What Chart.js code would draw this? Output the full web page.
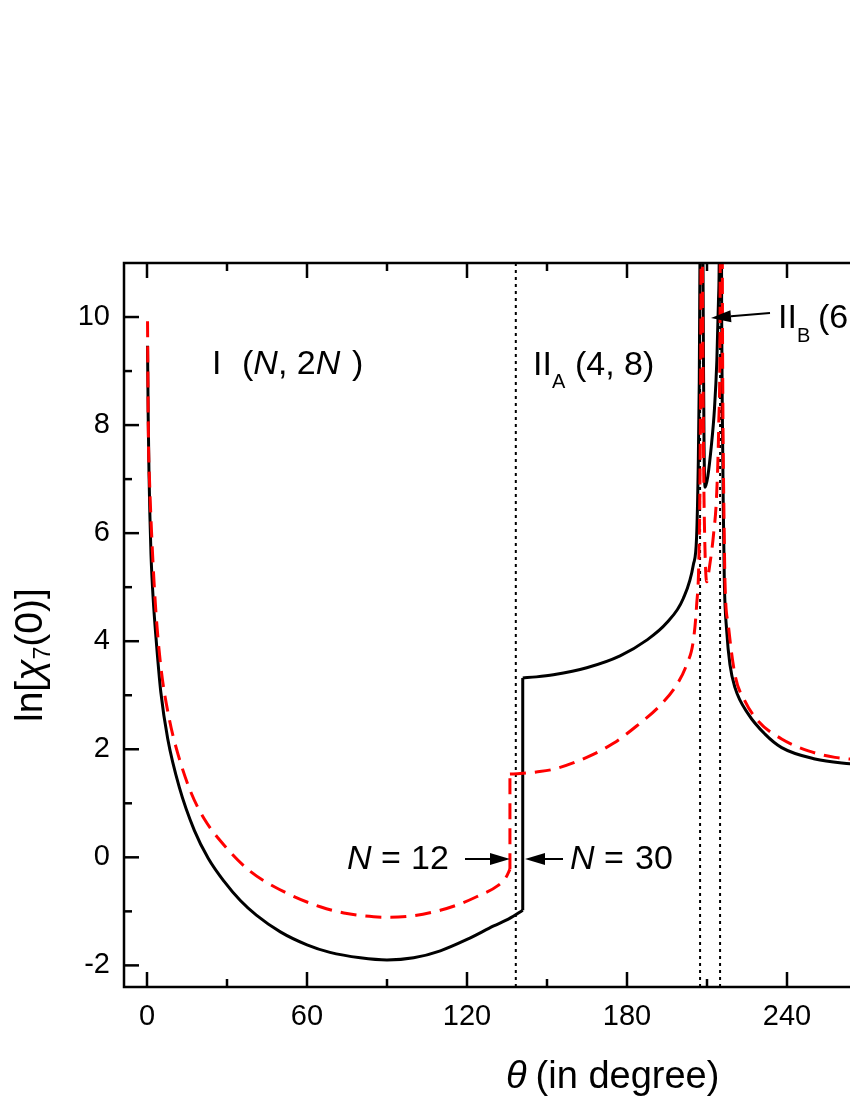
<!DOCTYPE html>
<html>
<head>
<meta charset="utf-8">
<script src="https://cdn.jsdelivr.net/npm/chart.js@4.4.1/dist/chart.umd.min.js"></script>
<style>
  html, body { margin: 0; padding: 0; background: #fff; overflow: hidden; }
  #wrap { width: 850px; height: 1100px; }
</style>
</head>
<body>
<div id="wrap"><canvas id="chart" width="850" height="1100"></canvas></div>
<script>
// tick labels
const xTickLabels = [0, 60, 120, 180, 240];
const yTickLabels = [-2, 0, 2, 4, 6, 8, 10];

// N = 30 (solid black): theta in degree, ln[chi7(0)]
// region I
const thetaN30I = [0.2, 0.45, 0.75, 1.1, 1.5, 2.3, 3.4, 5.2, 7.75, 12.1, 17.75, 23, 29, 35, 41,
    50, 60, 68.6, 80, 90, 100, 110, 120, 130, 136, 140.9];
const lnChiN30I = [9.47, 8.15, 7.1, 6.3, 5.6, 4.8, 4.05, 3.05, 2.2, 1.3, 0.5, -0.02, -0.45, -0.8, -1.07,
    -1.38, -1.62, -1.76, -1.86, -1.9, -1.86, -1.73, -1.52, -1.27, -1.13, -0.98];
// region II
const thetaN30II = [140.9, 146, 152.4, 164.9, 177.4, 187.4, 194.9, 201.1, 204.9, 206.1, 206.7, 207.1, 207.4, 207.6,
    208.3, 208.5, 208.7, 208.9, 209.3, 210.3, 211.6, 212.8, 213.7, 214.3, 214.6, 214.8,
    215.3, 215.5, 215.8, 216.1, 216.5, 217.4, 218.6, 220.5, 225.5, 231.75, 238, 250.5, 263.6, 268];
const lnChiN30II = [3.32, 3.34, 3.38, 3.51, 3.73, 4.02, 4.34, 4.79, 5.42, 5.93, 7.2, 8.8, 11.5, 14,
    14, 11, 9, 7.6, 6.85, 7.05, 7.6, 8.3, 9.2, 10.3, 11.2, 14,
    14, 10, 8, 6.5, 5.1, 4.18, 3.57, 3.14, 2.65, 2.28, 2.03, 1.82, 1.73, 1.71];

// N = 12 (dashed red)
const thetaN12I = [0.2, 0.5, 1.0, 1.5, 2.3, 3.4, 5.25, 8.4, 11.5, 16.5, 21.5, 29, 39, 51.5, 65.25,
    75, 85, 91, 100, 110, 117, 123.6, 131.7, 134.5, 136.1];
const lnChiN12I = [9.92, 7.88, 6.9, 6.25, 5.4, 4.5, 3.5, 2.55, 1.93, 1.2, 0.71, 0.22, -0.27, -0.64, -0.92,
    -1.04, -1.1, -1.11, -1.08, -0.98, -0.87, -0.73, -0.52, -0.38, -0.22];
const thetaN12II = [136.1, 139.9, 146, 152.4, 164.9, 174.9, 183.6, 192.4, 198.6, 202.4, 204.9, 206.1, 207.0, 207.4, 207.7, 207.9,
    208.1, 208.4, 208.7, 209.1, 209.9, 211, 212.5, 213.6, 214.4, 214.9, 215.1,
    215.6, 215.8, 216.0, 216.3, 216.75, 218, 220.5, 224.25, 229.25, 238, 248, 258, 268];
const lnChiN12II = [1.54, 1.55, 1.58, 1.63, 1.85, 2.11, 2.43, 2.81, 3.19, 3.57, 4.02, 4.66, 5.61, 7.2, 10, 14,
    14, 10, 7.5, 6.0, 5.1, 5.4, 6.0, 6.7, 8, 10, 14,
    14, 10, 8, 6.6, 5.1, 4.3, 3.38, 2.89, 2.52, 2.19, 1.97, 1.85, 1.8];

// dotted region boundaries
const boundaryTheta = [138.3, 207.4, 214.9];

const X_MIN = -8.625, X_MAX = 263.625, Y_MIN = -2.4, Y_MAX = 11;
const FONT = 'Arial, "Liberation Sans", sans-serif';

function toPoints(xs, ys) {
    return xs.map((x, i) => ({ x: x, y: ys[i] }));
}

function jump(xsA, ysA, xsB, ysB) {
    return [{ x: xsA[xsA.length - 1], y: ysA[ysA.length - 1] }, { x: xsB[0], y: ysB[0] }];
}

const red = { borderColor: '#ff0000', borderWidth: 3, borderDash: [16, 9], pointRadius: 0, order: 0 };
const black = { borderColor: '#000000', borderWidth: 3, pointRadius: 0, order: 1 };

const datasets = [
    Object.assign({ data: toPoints(thetaN12I, lnChiN12I), cubicInterpolationMode: 'monotone' }, red),
    Object.assign({ data: jump(thetaN12I, lnChiN12I, thetaN12II, lnChiN12II) }, red),
    Object.assign({ data: toPoints(thetaN12II, lnChiN12II), cubicInterpolationMode: 'monotone' }, red),
    Object.assign({ data: toPoints(thetaN30I, lnChiN30I), cubicInterpolationMode: 'monotone' }, black),
    Object.assign({ data: jump(thetaN30I, lnChiN30I, thetaN30II, lnChiN30II) }, black),
    Object.assign({ data: toPoints(thetaN30II, lnChiN30II), cubicInterpolationMode: 'monotone' }, black)
];
boundaryTheta.forEach(t => {
    datasets.push({
        data: [{ x: t, y: Y_MIN }, { x: t, y: Y_MAX }],
        borderColor: '#000000',
        borderWidth: 2,
        borderDash: [3, 4],
        pointRadius: 0,
        order: 2
    });
});

// draw a row of text pieces, one after the other
function drawRow(ctx, x, y, pieces) {
    pieces.forEach(p => {
        ctx.font = (p.italic ? 'italic ' : '') + p.size + 'px ' + FONT;
        const px = p.x !== undefined ? p.x : x;
        ctx.fillText(p.text, px, y + (p.dy || 0));
        x = px + ctx.measureText(p.text).width + (p.gap || 0);
    });
}

function arrow(ctx, x1, y1, x2, y2) {
    const a = Math.atan2(y2 - y1, x2 - x1);
    const len = 20, hw = 6;
    ctx.beginPath();
    ctx.moveTo(x1, y1);
    ctx.lineTo(x2 - len * Math.cos(a), y2 - len * Math.sin(a));
    ctx.lineWidth = 2;
    ctx.stroke();
    ctx.beginPath();
    ctx.moveTo(x2, y2);
    ctx.lineTo(x2 - len * Math.cos(a) + hw * Math.sin(a), y2 - len * Math.sin(a) - hw * Math.cos(a));
    ctx.lineTo(x2 - len * Math.cos(a) - hw * Math.sin(a), y2 - len * Math.sin(a) + hw * Math.cos(a));
    ctx.closePath();
    ctx.fill();
}

// frame, inward ticks, annotations and axis titles
const decorations = {
    id: 'decorations',
    afterDraw(chart) {
        const ctx = chart.ctx;
        const a = chart.chartArea;
        const xs = chart.scales.x, ys = chart.scales.y;
        ctx.save();
        ctx.strokeStyle = '#000';
        ctx.fillStyle = '#000';
        ctx.lineWidth = 2.5;
        ctx.beginPath();
        ctx.moveTo(a.right + 2, a.top);
        ctx.lineTo(a.left, a.top);
        ctx.lineTo(a.left, a.bottom);
        ctx.lineTo(a.right + 2, a.bottom);
        ctx.stroke();

        for (let v = 0; v <= X_MAX; v += 30) {
            const px = xs.getPixelForValue(v);
            const l = v % 60 === 0 ? 15 : 8;
            ctx.beginPath();
            ctx.moveTo(px, a.bottom); ctx.lineTo(px, a.bottom - l);
            ctx.moveTo(px, a.top); ctx.lineTo(px, a.top + l);
            ctx.stroke();
        }
        for (let v = -2; v <= 10; v += 1) {
            const py = ys.getPixelForValue(v);
            const l = v % 2 === 0 ? 15 : 8;
            ctx.beginPath();
            ctx.moveTo(a.left, py); ctx.lineTo(a.left + l, py);
            ctx.stroke();
        }

        ctx.textBaseline = 'alphabetic';
        ctx.textAlign = 'left';
        drawRow(ctx, 212, 374, [
            { text: 'I', size: 34 },
            { text: '(', x: 242, size: 34 },
            { text: 'N', size: 34, italic: true },
            { text: ', 2', size: 34 },
            { text: 'N', size: 34, italic: true },
            { text: ')', x: 352, size: 34 }
        ]);
        drawRow(ctx, 533, 375, [
            { text: 'II', size: 34 },
            { text: 'A', size: 20, dy: 13 },
            { text: '(4, 8)', x: 575, size: 34 }
        ]);
        drawRow(ctx, 778, 328, [
            { text: 'II', size: 34 },
            { text: 'B', size: 20, dy: 14 },
            { text: '(6, 12)', x: 818, size: 34 }
        ]);
        drawRow(ctx, 347, 869, [
            { text: 'N', size: 34, italic: true },
            { text: '=', x: 381, size: 34 },
            { text: '12', x: 411, size: 34 }
        ]);
        drawRow(ctx, 570, 869, [
            { text: 'N', size: 34, italic: true },
            { text: '=', x: 604, size: 34 },
            { text: '30', x: 635, size: 34 }
        ]);
        drawRow(ctx, 506, 1088, [
            { text: '\u03B8', size: 38, italic: true, gap: 9 },
            { text: '(in degree)', size: 38 }
        ]);
        arrow(ctx, 465, 859, 510, 859);
        arrow(ctx, 563, 859, 525, 859);
        arrow(ctx, 770, 313, 711, 318);

        // y axis title, rotated
        ctx.translate(42, 722);
        ctx.rotate(-Math.PI / 2);
        drawRow(ctx, 0, 0, [
            { text: 'ln[', size: 39 },
            { text: '\u03C7', size: 39, italic: true },
            { text: '7', size: 23, dy: 8 },
            { text: '(0)]', size: 39 }
        ]);
        ctx.restore();
    }
};

new Chart(document.getElementById('chart'), {
    type: 'line',
    data: { datasets: datasets },
    options: {
        responsive: false,
        devicePixelRatio: 1,
        animation: false,
        layout: { padding: { top: 263, right: 0, left: 0, bottom: 0 } },
        plugins: { legend: { display: false }, tooltip: { enabled: false } },
        scales: {
            x: {
                type: 'linear',
                min: X_MIN,
                max: X_MAX,
                grid: { display: false, drawTicks: false },
                border: { display: false },
                afterBuildTicks: s => { s.ticks = xTickLabels.map(v => ({ value: v })); },
                afterFit: s => { s.height = 113; },
                ticks: { color: '#000', padding: 13, maxRotation: 0, font: { size: 29, family: FONT } }
            },
            y: {
                type: 'linear',
                min: Y_MIN,
                max: Y_MAX,
                grid: { display: false, drawTicks: false },
                border: { display: false },
                afterBuildTicks: s => { s.ticks = yTickLabels.map(v => ({ value: v })); },
                afterFit: s => { s.width = 124; },
                ticks: { color: '#000', padding: 14, font: { size: 29, family: FONT } }
            }
        }
    },
    plugins: [decorations]
});
</script>
</body>
</html>
